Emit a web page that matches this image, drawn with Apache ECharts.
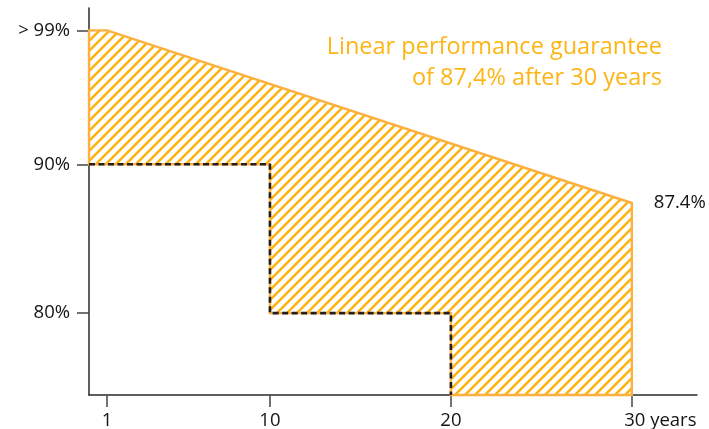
<!DOCTYPE html>
<html><head><meta charset="utf-8">
<script src="https://cdn.jsdelivr.net/npm/echarts@6.0.0/dist/echarts.min.js"></script>
<style>html,body{margin:0;padding:0;background:#fff}#c{width:709px;height:429px}</style>
</head><body><div id="c"></div>
<script>
// ---- data ----
const guaranteeYears = [0, 1, 30];
const guaranteeValues = [99, 99, 87.4];
const stepYears = [0, 10, 10, 20, 20];
const stepValues = [90, 90, 80, 80, 74.5];
const xTickValues = [1, 10, 20, 30];
const xTickLabels = ['1', '10', '20', '30 years'];
const yTickValues = [80, 90, 99];
const yTickLabels = ['80%', '90%', '> 99%'];
const endLabel = '87.4%';
const titleLines = ['Linear performance guarantee', 'of 87,4% after 30 years'];

const Y_MIN = 74.5, Y_MAX = 100.5, X_MIN = 0, X_MAX = 33.6;
const FONT = 'Open Sans';
const ORANGE = '#FDB515';
const INK = '#141414';

const guaranteePts = guaranteeYears.map((x, i) => [x, guaranteeValues[i]]);
const stepPts = stepYears.map((x, i) => [x, stepValues[i]]);
const polyPts = guaranteePts.concat([[guaranteeYears[guaranteeYears.length - 1], Y_MIN]], stepPts.slice().reverse());

function hatch() {
  const s = 10, c = document.createElement('canvas');
  c.width = s; c.height = s;
  const g = c.getContext('2d');
  g.strokeStyle = '#FDB412'; g.lineWidth = 2.6; g.lineCap = 'square';
  g.beginPath();
  g.moveTo(-2, s + 2); g.lineTo(s + 2, -2);
  g.moveTo(-2, 2); g.lineTo(2, -2);
  g.moveTo(s - 2, s + 2); g.lineTo(s + 2, s - 2);
  g.stroke();
  return c;
}
const hatchCanvas = hatch();

const chart = echarts.init(document.getElementById('c'));
chart.setOption({
  animation: false,
  backgroundColor: '#fff',
  graphic: titleLines.map((t, i) => ({
    type: 'text', right: 47, top: 35 + i * 31, z: 10,
    style: { text: t, fill: ORANGE, fontSize: 23.5, fontFamily: FONT }
  })),
  grid: { left: 89, right: 12, top: 8, bottom: 34, containLabel: false, outerBoundsMode: 'none' },
  xAxis: {
    type: 'value', min: X_MIN, max: X_MAX,
    splitLine: { show: false },
    axisLine: { lineStyle: { color: '#2b2b2b', width: 1.5 } },
    axisTick: { customValues: xTickValues, length: 12, lineStyle: { color: '#444', width: 1.5 } },
    axisLabel: {
      customValues: xTickValues, margin: 16,
      color: INK, fontSize: 18.5, fontFamily: FONT,
      formatter: v => {
        const i = xTickValues.indexOf(v);
        const t = i >= 0 ? xTickLabels[i] : '';
        return i === xTickValues.length - 1 ? '{last|' + t + '}' : t;
      },
      rich: { last: { color: INK, fontSize: 18.5, fontFamily: FONT, padding: [0, 0, 0, 57] } }
    }
  },
  yAxis: {
    type: 'value', min: Y_MIN, max: Y_MAX,
    splitLine: { show: false },
    axisLine: { show: true, lineStyle: { color: '#2b2b2b', width: 1.5 } },
    axisTick: { show: true, customValues: yTickValues, length: 12, lineStyle: { color: '#444', width: 1.5 } },
    axisLabel: {
      customValues: yTickValues, margin: 19,
      color: INK, fontSize: 18.5, fontFamily: FONT,
      formatter: v => { const i = yTickValues.indexOf(v); return i >= 0 ? yTickLabels[i] : ''; }
    }
  },
  series: [
    {
      type: 'custom', silent: true, clip: false, z: 2,
      data: [[0, 90]],
      renderItem: (params, api) => ({
        type: 'polygon',
        shape: { points: polyPts.map(p => api.coord(p)) },
        style: { fill: { image: hatchCanvas, repeat: 'repeat' }, stroke: '#FBB040', lineWidth: 2.4, lineJoin: 'miter' }
      })
    },
    {
      type: 'line', data: stepPts, symbol: 'none', z: 3, silent: true,
      lineStyle: { color: '#231F20', width: 2.6, type: [6, 3.5] }
    },
    {
      type: 'scatter', data: [guaranteePts[guaranteePts.length - 1]], symbolSize: 0, z: 4, silent: true,
      itemStyle: { opacity: 0 },
      label: { show: true, position: 'right', distance: 22, formatter: endLabel, color: INK, fontSize: 18.5, fontFamily: FONT, opacity: 1 }
    }
  ]
});
</script></body></html>
